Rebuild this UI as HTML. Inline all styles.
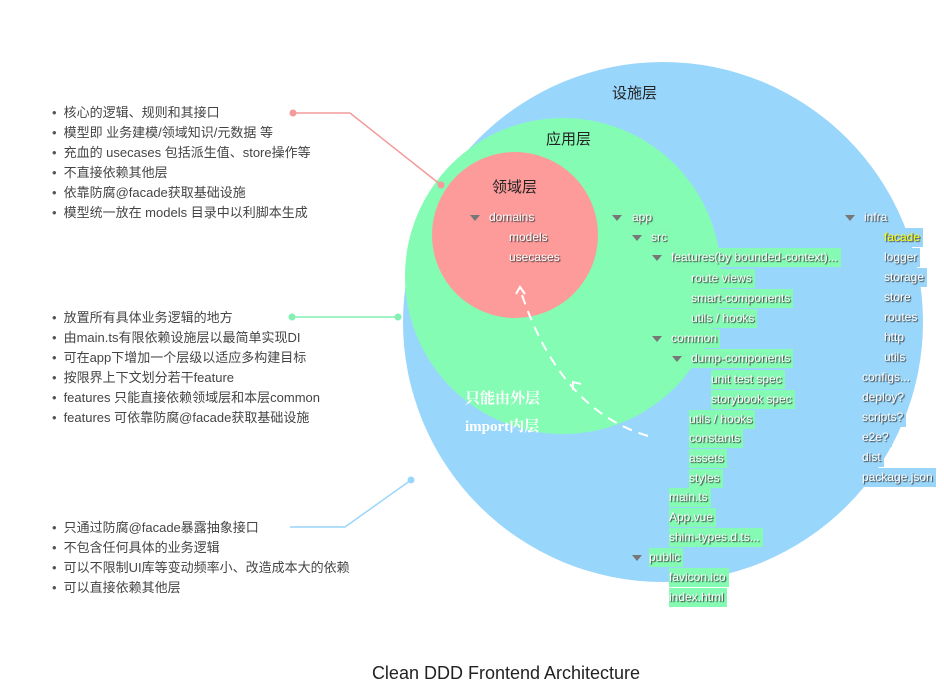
<!DOCTYPE html>
<html><head><meta charset="utf-8"><style>
body{margin:0;width:944px;height:689px;background:#fff;position:relative;overflow:hidden;font-family:"Liberation Sans","Noto Sans CJK SC",sans-serif}
.l{position:absolute;left:52px;font-size:13px;color:#444;line-height:20px;white-space:nowrap}
.l div:before{content:"•";margin-right:7px;color:#555}
.t{position:absolute;font-size:12px;color:#fff;text-shadow:1px 1px 1px #333;line-height:19px;white-space:nowrap;padding:0 3px 0 0}
.g{background:#84fab2}.b{background:#99d6fa}
.a{position:absolute;width:0;height:0;border-left:5px solid transparent;border-right:5px solid transparent;border-top:6px solid #777}
.h{position:absolute;font-size:15px;color:#222}
</style></head><body>
<svg width="944" height="689" style="position:absolute;left:0;top:0">
<circle cx="663" cy="322" r="260" fill="#99d6fc"/>
<circle cx="563" cy="276" r="158" fill="#84fcb4"/>
<circle cx="515" cy="235" r="83" fill="#fd9a9a"/>
<line x1="293" y1="113" x2="350" y2="113" stroke="#f49a9a" stroke-width="1.5"/>
<line x1="350" y1="113" x2="441" y2="185" stroke="#f49a9a" stroke-width="1.5"/>
<circle cx="293" cy="113" r="3.5" fill="#f49a9a"/><circle cx="441" cy="185" r="3.5" fill="#f49a9a"/>
<line x1="292" y1="317" x2="398" y2="317" stroke="#84f0b4" stroke-width="1.5"/>
<circle cx="292" cy="317" r="3.5" fill="#84f0b4"/><circle cx="398" cy="317" r="3.5" fill="#84f0b4"/>
<polyline points="290,527 345,527 411,480" fill="none" stroke="#99d6fc" stroke-width="1.5"/>
<circle cx="411" cy="480" r="3.5" fill="#99d6fc"/>
<path d="M648,436 Q560,410 521,292" fill="none" stroke="#fff" stroke-width="2" stroke-dasharray="10,7"/>
<path d="M516,294 L520,287 L525,294" fill="none" stroke="#fff" stroke-width="2"/>
<path d="M573,390 L573,382 L581,384" fill="none" stroke="#fff" stroke-width="2"/>
</svg>
<div class="h" style="left:612px;top:82px">设施层</div>
<div class="h" style="left:546px;top:128px">应用层</div>
<div class="h" style="left:492px;top:176px">领域层</div>
<div class="l" style="top:103px"><div>核心的逻辑、规则和其接口</div><div>模型即 业务建模/领域知识/元数据 等</div><div>充血的 usecases 包括派生值、store操作等</div><div>不直接依赖其他层</div><div>依靠防腐@facade获取基础设施</div><div>模型统一放在 models 目录中以利脚本生成</div></div>
<div class="l" style="top:308px"><div>放置所有具体业务逻辑的地方</div><div>由main.ts有限依赖设施层以最简单实现DI</div><div>可在app下增加一个层级以适应多构建目标</div><div>按限界上下文划分若干feature</div><div>features 只能直接依赖领域层和本层common</div><div>features 可依靠防腐@facade获取基础设施</div></div>
<div class="l" style="top:518px"><div>只通过防腐@facade暴露抽象接口</div><div>不包含任何具体的业务逻辑</div><div>可以不限制UI库等变动频率小、改造成本大的依赖</div><div>可以直接依赖其他层</div></div>
<div style="position:absolute;left:465px;top:385px;font:bold 15px 'Liberation Serif','Noto Serif CJK SC',serif;color:#fff;line-height:28px">只能由外层<br>import内层</div>
<div class="a" style="left:470px;top:215px"></div><div class="t" style="left:489px;top:208px">domains</div>
<div class="t" style="left:509px;top:228px">models</div><div class="t" style="left:509px;top:248px">usecases</div>
<div class="a" style="left:612px;top:215px"></div><div class="t g" style="left:632px;top:208px">app</div>
<div class="a" style="left:632px;top:235px"></div><div class="t g" style="left:651px;top:228px">src</div>
<div class="a" style="left:652px;top:255px"></div><div class="t g" style="left:671px;top:248px">features(by bounded-context)...</div>
<div class="t g" style="left:691px;top:269px">route views</div>
<div class="t g" style="left:691px;top:289px">smart-components</div>
<div class="t g" style="left:691px;top:309px">utils / hooks</div>
<div class="a" style="left:652px;top:336px"></div><div class="t g" style="left:671px;top:329px">common</div>
<div class="a" style="left:672px;top:356px"></div><div class="t g" style="left:691px;top:349px">dump-components</div>
<div class="t g" style="left:711px;top:370px">unit test spec</div>
<div class="t g" style="left:711px;top:390px">storybook spec</div>
<div class="t g" style="left:689px;top:410px">utils / hooks</div>
<div class="t g" style="left:689px;top:429px">constants</div>
<div class="t g" style="left:689px;top:449px">assets</div>
<div class="t g" style="left:689px;top:469px">styles</div>
<div class="t g" style="left:669px;top:488px">main.ts</div>
<div class="t g" style="left:669px;top:508px">App.vue</div>
<div class="t g" style="left:669px;top:528px">shim-types.d.ts...</div>
<div class="a" style="left:632px;top:555px"></div><div class="t g" style="left:649px;top:548px">public</div>
<div class="t g" style="left:669px;top:568px">favicon.ico</div>
<div class="t g" style="left:669px;top:588px">index.html</div>
<div class="a" style="left:845px;top:215px"></div><div class="t" style="left:864px;top:208px">infra</div>
<div class="t b" style="left:884px;top:228px;color:#ff0">facade</div>
<div class="t b" style="left:884px;top:248px">logger</div>
<div class="t b" style="left:884px;top:268px">storage</div>
<div class="t b" style="left:884px;top:288px">store</div>
<div class="t b" style="left:884px;top:308px">routes</div>
<div class="t b" style="left:884px;top:328px">http</div>
<div class="t b" style="left:884px;top:348px">utils</div>
<div class="t b" style="left:862px;top:368px">configs...</div>
<div class="t b" style="left:862px;top:388px">deploy?</div>
<div class="t b" style="left:862px;top:408px">scripts?</div>
<div class="t b" style="left:862px;top:428px">e2e?</div>
<div class="t b" style="left:862px;top:448px">dist</div>
<div class="t b" style="left:862px;top:468px">package.json</div>
<div style="position:absolute;left:0;width:1012px;top:663px;text-align:center;font-size:18px;color:#222">Clean DDD Frontend Architecture</div>
</body></html>
